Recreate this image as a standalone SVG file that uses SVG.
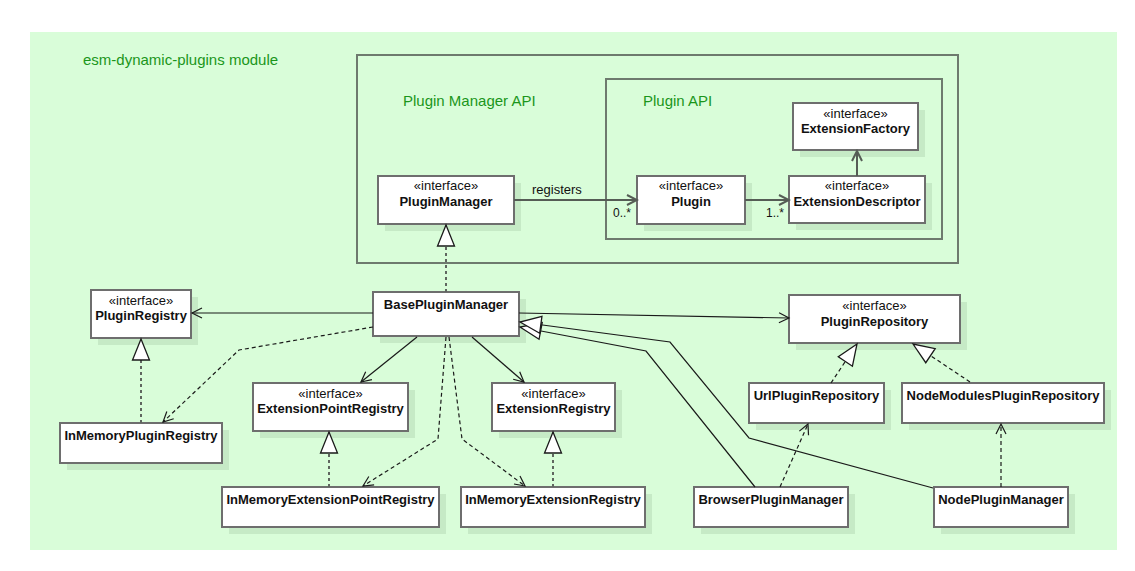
<svg xmlns="http://www.w3.org/2000/svg" width="1135" height="571" viewBox="0 0 1135 571">
<style>
.bg{fill:#d9fdd9}
.pkg{fill:none;stroke:#6e7a6e;stroke-width:2}
.lbl{font-family:"Liberation Sans",Arial,sans-serif;font-size:15px;fill:#1b961b}
.box{fill:#fff;stroke:#6e6e6e;stroke-width:2}
.sh{fill:#c6eac6}
.st{font-family:"Liberation Sans",Arial,sans-serif;font-size:13px;fill:#111;text-anchor:middle}
.nm{font-family:"Liberation Sans",Arial,sans-serif;font-size:13px;font-weight:bold;fill:#111;text-anchor:middle}
.tx{font-family:"Liberation Sans",Arial,sans-serif;font-size:13px;fill:#111}
.ml{font-family:"Liberation Sans",Arial,sans-serif;font-size:12px;fill:#111}
.gl{fill:none;stroke:#555c55;stroke-width:2}
.al{fill:none;stroke:#1a1a1a;stroke-width:1.2}
.dl{fill:none;stroke:#1a1a1a;stroke-width:1.2;stroke-dasharray:4,3}
.rl{fill:none;stroke:#5f665f;stroke-width:2;stroke-dasharray:3,3}
</style>
<defs>
<marker id="ag" viewBox="-12 -8 14 16" refX="0" refY="0" markerWidth="14" markerHeight="16" markerUnits="userSpaceOnUse" orient="auto">
<path d="M-10,-5 L0,0 L-10,5" fill="none" stroke="#555c55" stroke-width="2"/>
</marker>
<marker id="ab" viewBox="-12 -8 14 16" refX="0" refY="0" markerWidth="14" markerHeight="16" markerUnits="userSpaceOnUse" orient="auto">
<path d="M-10,-5 L0,0 L-10,5" fill="none" stroke="#1a1a1a" stroke-width="1.2"/>
</marker>
<marker id="tri" viewBox="-23 -11 25 22" refX="0" refY="0" markerWidth="25" markerHeight="22" markerUnits="userSpaceOnUse" orient="auto">
<path d="M0,0 L-21,-8.5 L-21,8.5 Z" fill="#fff" stroke="#1a1a1a" stroke-width="1.3"/>
</marker>
</defs>
<rect class="bg" x="30" y="32" width="1087" height="518"/>
<text class="lbl" x="83" y="65">esm-dynamic-plugins module</text>
<g id="pkg-plugin-manager-api">
<rect class="pkg" x="357" y="55" width="601" height="208"/>
<text class="lbl" x="403" y="106">Plugin Manager API</text>
</g>
<g id="pkg-plugin-api">
<rect class="pkg" x="606" y="79" width="336" height="160"/>
<text class="lbl" x="643" y="106">Plugin API</text>
</g>
<g id="ExtensionFactory">
<rect class="sh" x="800" y="110" width="125" height="47"/>
<rect class="box" x="793" y="103" width="125" height="47"/>
<text class="st" x="855.5" y="118">«interface»</text>
<text class="nm" x="855.5" y="133">ExtensionFactory</text>
</g>
<g id="PluginManager">
<rect class="sh" x="385" y="183" width="136" height="48"/>
<rect class="box" x="378" y="176" width="136" height="48"/>
<text class="st" x="446" y="190">«interface»</text>
<text class="nm" x="446" y="206">PluginManager</text>
</g>
<g id="Plugin">
<rect class="sh" x="644" y="183" width="108" height="48"/>
<rect class="box" x="637" y="176" width="108" height="48"/>
<text class="st" x="691" y="190">«interface»</text>
<text class="nm" x="691" y="206">Plugin</text>
</g>
<g id="ExtensionDescriptor">
<rect class="sh" x="796" y="183" width="136" height="47"/>
<rect class="box" x="789" y="176" width="136" height="47"/>
<text class="st" x="857" y="190">«interface»</text>
<text class="nm" x="857" y="206">ExtensionDescriptor</text>
</g>
<g id="PluginRegistry">
<rect class="sh" x="98" y="297" width="100" height="48"/>
<rect class="box" x="91" y="290" width="100" height="48"/>
<text class="st" x="141" y="305">«interface»</text>
<text class="nm" x="141" y="320">PluginRegistry</text>
</g>
<g id="BasePluginManager">
<rect class="sh" x="380" y="299" width="146" height="44"/>
<rect class="box" x="373" y="292" width="146" height="44"/>
<text class="nm" x="446" y="309">BasePluginManager</text>
</g>
<g id="PluginRepository">
<rect class="sh" x="796" y="302" width="171" height="48"/>
<rect class="box" x="789" y="295" width="171" height="48"/>
<text class="st" x="874.5" y="310">«interface»</text>
<text class="nm" x="874.5" y="326">PluginRepository</text>
</g>
<g id="InMemoryPluginRegistry">
<rect class="sh" x="67" y="430" width="162" height="40"/>
<rect class="box" x="60" y="423" width="162" height="40"/>
<text class="nm" x="141" y="440">InMemoryPluginRegistry</text>
</g>
<g id="ExtensionPointRegistry">
<rect class="sh" x="260" y="390" width="155" height="48"/>
<rect class="box" x="253" y="383" width="155" height="48"/>
<text class="st" x="330.5" y="398">«interface»</text>
<text class="nm" x="330.5" y="413">ExtensionPointRegistry</text>
</g>
<g id="ExtensionRegistry">
<rect class="sh" x="499" y="390" width="123" height="48"/>
<rect class="box" x="492" y="383" width="123" height="48"/>
<text class="st" x="553.5" y="398">«interface»</text>
<text class="nm" x="553.5" y="413">ExtensionRegistry</text>
</g>
<g id="UrlPluginRepository">
<rect class="sh" x="756" y="390" width="135" height="40"/>
<rect class="box" x="749" y="383" width="135" height="40"/>
<text class="nm" x="816.5" y="400">UrlPluginRepository</text>
</g>
<g id="NodeModulesPluginRepository">
<rect class="sh" x="909" y="390" width="202" height="40"/>
<rect class="box" x="902" y="383" width="202" height="40"/>
<text class="nm" x="1003" y="400">NodeModulesPluginRepository</text>
</g>
<g id="InMemoryExtensionPointRegistry">
<rect class="sh" x="229" y="494" width="217" height="40"/>
<rect class="box" x="222" y="487" width="217" height="40"/>
<text class="nm" x="330.5" y="504">InMemoryExtensionPointRegistry</text>
</g>
<g id="InMemoryExtensionRegistry">
<rect class="sh" x="468" y="494" width="184" height="40"/>
<rect class="box" x="461" y="487" width="184" height="40"/>
<text class="nm" x="553" y="504">InMemoryExtensionRegistry</text>
</g>
<g id="BrowserPluginManager">
<rect class="sh" x="701" y="494" width="154" height="40"/>
<rect class="box" x="694" y="487" width="154" height="40"/>
<text class="nm" x="771" y="504">BrowserPluginManager</text>
</g>
<g id="NodePluginManager">
<rect class="sh" x="941" y="494" width="134" height="40"/>
<rect class="box" x="934" y="487" width="134" height="40"/>
<text class="nm" x="1001" y="504">NodePluginManager</text>
</g>
<g id="connectors">
<path class="gl" d="M514,200 L637,200" marker-end="url(#ag)"/>
<text class="tx" x="532" y="194">registers</text>
<text class="ml" x="613" y="217">0..*</text>
<path class="gl" d="M745,200 L789,200" marker-end="url(#ag)"/>
<text class="ml" x="766" y="217">1..*</text>
<path class="gl" d="M857,176 L857,151" marker-end="url(#ag)"/>
<path class="rl" d="M446,292 L446,225" marker-end="url(#tri)"/>
<path class="al" d="M373,313 L192,313" marker-end="url(#ab)"/>
<path class="al" d="M519,313 L789,318" marker-end="url(#ab)"/>
<path class="dl" d="M373,327 L239,350 L163,422" marker-end="url(#ab)"/>
<path class="al" d="M417,337 L361,382" marker-end="url(#ab)"/>
<path class="al" d="M472,337 L524,382" marker-end="url(#ab)"/>
<path class="dl" d="M446,337 L438,439 L363,486" marker-end="url(#ab)"/>
<path class="dl" d="M449,337 L462,439 L525,486" marker-end="url(#ab)"/>
<path class="rl" d="M141,423 L141,339" marker-end="url(#tri)"/>
<path class="rl" d="M329,487 L329,432" marker-end="url(#tri)"/>
<path class="rl" d="M553,487 L553,432" marker-end="url(#tri)"/>
<path class="al" d="M755,487 L646,351 L520,327" marker-end="url(#tri)"/>
<path class="al" d="M933,488 L749,438 L670,342 L520,322" marker-end="url(#tri)"/>
<path class="dl" d="M831,383 L857,344" marker-end="url(#tri)"/>
<path class="dl" d="M970,382 L913,344" marker-end="url(#tri)"/>
<path class="dl" d="M780,487 L808,424" marker-end="url(#ab)"/>
<path class="dl" d="M1001,487 L1001,424" marker-end="url(#ab)"/>
</g>
</svg>
